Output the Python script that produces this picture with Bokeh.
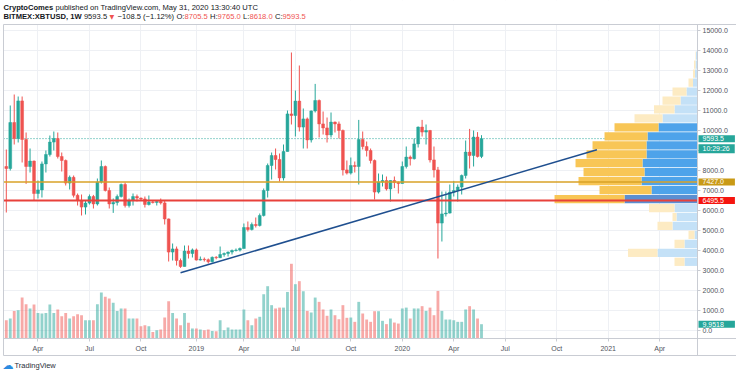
import pandas as pd
from bokeh.plotting import figure
from bokeh.models import (Range1d, LinearAxis, DatetimeAxis, FixedTicker, CustomJSTickFormatter,
                          NumeralTickFormatter, Label, ColumnDataSource, Grid, BoxAnnotation)
from bokeh.embed import file_html
from bokeh.resources import INLINE

# ---------------- data ----------------
first_week = "2018-02-05"   # weekly bars (Monday open)

opens = [8200, 8100, 10400, 9600, 11480, 9550, 8200, 8470, 6850, 7030,
         8330, 8800, 9420, 9600, 8700, 8500, 7370, 7660, 6760, 6500,
         6170, 6370, 6700, 6330, 7420, 8200, 7000, 6330, 6400, 6700,
         7300, 6250, 6500, 6700, 6620, 6580, 6300, 6420, 6400, 6450,
         6380, 5580, 3920, 4080, 3500, 3200, 3970, 3850, 4030, 3520,
         3560, 3540, 3440, 3660, 3640, 3800, 3850, 3920, 4000, 4020,
         4100, 5150, 5050, 5300, 5250, 5750, 7000, 8250, 8750, 8550,
         7630, 8950, 10830, 10750, 11470, 10170, 10580, 9530, 10980, 11500,
         10330, 10130, 9780, 10420, 10330, 10000, 8030, 7870, 8250, 8200,
         9550, 9200, 9000, 8500, 6920, 7420, 7500, 7080, 7500, 7400,
         7350, 8200, 8670, 8590, 9330, 10170, 9920, 10000, 8530, 8030,
         5370, 5830, 5870, 6920, 7000, 7170, 7750, 8920, 8750, 9670,
         8705.5]
highs = [9050, 11250, 11800, 11700, 11700, 9900, 9100, 8500, 7500, 8450,
         9000, 9750, 9950, 9900, 8900, 8550, 7750, 7750, 6850, 6800,
         6500, 6800, 6780, 7600, 8500, 8250, 7150, 6600, 6800, 7350,
         7400, 6600, 6850, 6800, 6650, 6700, 6750, 6480, 6500, 6600,
         6500, 5600, 4350, 4200, 3600, 4250, 4250, 4100, 4100, 3700,
         3650, 3600, 3700, 3720, 4200, 3900, 3950, 4050, 4100, 4150,
         5350, 5450, 5400, 5650, 5850, 7100, 8350, 8900, 9100, 8850,
         9300, 11000, 13900, 12000, 13250, 11100, 10650, 11000, 12330, 11550,
         10950, 10650, 10900, 10450, 10450, 10050, 8500, 8650, 8450, 10530,
         9950, 9450, 9100, 8550, 7850, 7800, 7700, 7500, 7700, 7450,
         8450, 9200, 8750, 9600, 10200, 10530, 10300, 10030, 9200, 8180,
         6950, 6950, 7300, 7480, 7300, 7800, 9500, 10080, 10000, 9920,
         9765]
lows = [5900, 8000, 9300, 9400, 8400, 7330, 7900, 6500, 6600, 6650,
        7900, 8700, 9000, 8600, 7950, 7250, 7050, 6650, 6250, 5750,
        5800, 6300, 6100, 6250, 7350, 6950, 6100, 5880, 6250, 6650,
        6150, 6150, 6250, 6450, 6500, 6150, 6250, 6350, 6250, 6300,
        5300, 3450, 3500, 3250, 3130, 3200, 3600, 3650, 3500, 3500,
        3450, 3350, 3400, 3560, 3620, 3690, 3700, 3800, 3950, 3950,
        4100, 4950, 5000, 5150, 5200, 5700, 6650, 7550, 8050, 7450,
        7500, 8950, 10300, 9700, 9950, 9100, 9100, 9400, 10900, 9650,
        9800, 9400, 9650, 9900, 9600, 7750, 7800, 7800, 7900, 7300,
        9050, 8700, 8350, 6550, 6850, 7200, 7000, 6450, 7120, 6850,
        7350, 8100, 8250, 8550, 9150, 9700, 9300, 8400, 7650, 3600,
        4450, 5700, 5850, 6700, 6450, 6800, 7600, 8100, 8200, 8650,
        8618]
closes = [8100, 10400, 9600, 11480, 9550, 8200, 8470, 6850, 7030, 8330,
          8800, 9420, 9600, 8700, 8500, 7370, 7660, 6760, 6500, 6170,
          6370, 6700, 6330, 7420, 8200, 7000, 6330, 6400, 6700, 7300,
          6250, 6500, 6700, 6620, 6580, 6300, 6420, 6400, 6450, 6380,
          5580, 3920, 4080, 3500, 3200, 3970, 3850, 4030, 3520, 3560,
          3540, 3440, 3660, 3640, 3800, 3850, 3920, 4000, 4020, 4100,
          5150, 5050, 5300, 5250, 5750, 7000, 8250, 8750, 8550, 7630,
          8950, 10830, 10750, 11470, 10170, 10580, 9530, 10980, 11500, 10330,
          10130, 9780, 10420, 10330, 10000, 8030, 7870, 8250, 8200, 9550,
          9200, 9000, 8500, 6920, 7420, 7500, 7080, 7500, 7400, 7350,
          8200, 8670, 8590, 9330, 10170, 9920, 10000, 8530, 8030, 5370,
          5830, 5870, 6920, 7000, 7170, 7750, 8920, 8750, 9670, 8700,
          9593.5]
volumes = [12.7, 13.9, 19.2, 19.7, 28.5, 23.9, 20.9, 23.6, 17.8, 17.4,
           17.8, 23.6, 17.8, 20.2, 15.5, 17.8, 13.9, 15.5, 16.9, 16.2,
           12.7, 12.7, 12.7, 23.9, 32.0, 29.0, 27.8, 24.8, 19.2, 20.9,
           20.9, 13.9, 13.9, 13.9, 8.6, 9.3, 8.6, 4.6, 5.8, 6.3,
           14.6, 25.9, 17.8, 13.9, 9.3, 17.8, 10.9, 7.0, 7.0, 6.3,
           5.8, 6.3, 5.3, 5.1, 12.7, 5.8, 7.6, 6.3, 6.3, 6.3,
           20.2, 12.7, 9.3, 13.9, 15.1, 30.8, 36.4, 23.2, 20.9, 21.5,
           21.5, 32.4, 52.0, 37.8, 39.9, 32.9, 19.2, 18.1, 28.5, 25.5,
           20.2, 15.8, 20.2, 16.2, 13.4, 23.2, 14.4, 14.6, 11.6, 25.5,
           17.4, 13.2, 11.6, 19.0, 19.0, 12.3, 10.0, 13.9, 11.1, 10.4,
           20.9, 21.5, 13.9, 20.9, 20.9, 22.5, 19.2, 21.5, 16.2, 33.1,
           19.2, 13.2, 13.2, 12.7, 11.6, 11.6, 20.2, 22.5, 20.2, 13.9,
           9.9518]

# visible-range volume profile (24 rows, bottom -> top)
profile_low = 3211
profile_high = 13963
profile_up = [13, 40, 13, 3, 25, 21, 23, 73, 46, 56, 53, 55,
              51, 51, 50, 39, 35, 23, 17, 11, 4.5, 2.5, 2, 1.5]
profile_down = [10, 29.5, 10, 6, 15, 4, 25.5, 70, 52, 63, 61, 67,
                60, 54, 43, 44, 28, 20.5, 18, 14, 4.5, 2, 1.5, 0.5]
value_area_rows = (7, 15)

tick_dates = ["2018-04-02", "2018-07-02", "2018-10-01", "2019-01-07", "2019-04-01",
              "2019-07-01", "2019-10-07", "2020-01-06", "2020-04-06", "2020-07-06",
              "2020-10-05", "2021-01-04", "2021-04-05"]
price_ticks = [0, 1000, 2000, 3000, 4000, 5000, 6000, 7000, 8000, 9000,
               10000, 11000, 12000, 13000, 14000, 15000]

last_price = 9593.5
countdown = "10:29:26"
level_orange = 7427.0
level_red = 6495.5
trend_dates = ["2018-12-10", "2020-12-15"]
trend_prices = [2885, 9035]

header_line1 = [("CryptoComes", True, "dark"),
                ("published on TradingView.com, May 31, 2020 13:30:40 UTC", False, "dark")]
header_line2 = [("BITMEX:XBTUSD, 1W", True, "dark"), ("9593.5", False, "dark"),
                ("▼", False, "red"), ("−108.5 (−1.12%)", False, "dark"),
                ("O:", False, "dark"), ("8705.5", False, "red"),
                ("H:", False, "dark"), ("9765.0", False, "red"),
                ("L:", False, "dark"), ("8618.0", False, "red"),
                ("C:", False, "dark"), ("9593.5", False, "red")]

# ---------------- layout (page pixels -> data) ----------------
W, H = 736, 375
UP = "#26a69a"
DOWN = "#ef5350"
DAY = 86400000.0
weeks = pd.date_range(first_week, periods=len(opens), freq="7D")
last_bar = weeks[-1]
px_per_day = 3.96 / 7.0
LAST_BAR_PX = 481
x_start = last_bar - pd.Timedelta(days=LAST_BAR_PX / px_per_day)
x_end = last_bar + pd.Timedelta(days=(W - LAST_BAR_PX) / px_per_day)
ZERO_PX, PX_PER_PRICE = 330.0, 0.02
VOL_BASE_PX, VOL_PER_PX = 338.0, 0.696


def cx(px):   # page x -> datetime ms
    return (x_start + pd.Timedelta(days=px / px_per_day)).value / 1e6


def cy(py):   # page y -> price
    return (ZERO_PX - py) / PX_PER_PRICE


LEFT, RIGHT, TOP, BOTTOM, AXBOT = 3, 697, 23.5, 338, 355

inc = [c >= o for o, c in zip(opens, closes)]
src = ColumnDataSource(dict(
    x=weeks,
    top=[max(o, c) for o, c in zip(opens, closes)],
    bottom=[min(o, c) for o, c in zip(opens, closes)],
    high=highs, low=lows, vol=volumes,
    color=[UP if i else DOWN for i in inc],
))

p = figure(width=W, height=H, x_axis_type=None, y_axis_type=None,
           x_range=Range1d(x_start, x_end), y_range=Range1d(cy(H), cy(0)),
           output_backend="svg", toolbar_location=None,
           min_border=0, min_border_left=0, min_border_right=0,
           min_border_top=0, min_border_bottom=0)
p.outline_line_color = None
p.background_fill_color = "white"
p.border_fill_color = "white"

p.extra_y_ranges = {"vol": Range1d(-(H - VOL_BASE_PX) * VOL_PER_PX, VOL_BASE_PX * VOL_PER_PX)}
vp_max = max(u + d for u, d in zip(profile_up, profile_down))
vp_per_px = vp_max / (0.206 * (RIGHT - LEFT))
p.extra_x_ranges = {"vp": Range1d(RIGHT * vp_per_px, -(W - RIGHT) * vp_per_px)}

GRID = "#eef0f4"
BORDER = "#c9ccd3"
x_tick_ms = [pd.Timestamp(d).value / 1e6 for d in tick_dates]
p.add_layout(Grid(dimension=0, ticker=FixedTicker(ticks=x_tick_ms), grid_line_color=GRID))
p.add_layout(Grid(dimension=1, ticker=FixedTicker(ticks=price_ticks), grid_line_color=GRID))
# keep the grid inside the chart pane
for kw in (dict(bottom=cy(TOP)), dict(top=cy(BOTTOM)), dict(left=cx(RIGHT)), dict(right=cx(LEFT))):
    p.add_layout(BoxAnnotation(fill_color="white", fill_alpha=1, line_color=None,
                               level="underlay", **kw))

# axes
xa = DatetimeAxis(fixed_location=cy(BOTTOM), bounds=(cx(LEFT), cx(W)),
                  ticker=FixedTicker(ticks=x_tick_ms))
xa.formatter = CustomJSTickFormatter(code="""
const d = new Date(tick);
const m = d.getUTCMonth();
const n = ["Jan","Feb","Mar","Apr","May","Jun","Jul","Aug","Sep","Oct","Nov","Dec"];
return m == 0 ? String(d.getUTCFullYear()) : n[m];
""")
ya = LinearAxis(fixed_location=cx(RIGHT), bounds=(cy(AXBOT), cy(TOP)),
                ticker=FixedTicker(ticks=price_ticks),
                formatter=NumeralTickFormatter(format="0.0"))
for ax in (xa, ya):
    ax.axis_line_color = BORDER
    ax.major_tick_line_color = BORDER
    ax.major_tick_out = 3
    ax.major_tick_in = 0
    ax.minor_tick_line_color = None
    ax.major_label_text_font = "Liberation Sans"
    ax.major_label_text_font_size = "7px"
    ax.major_label_text_color = "#50535e"
    ax.major_label_standoff = 2
xa.major_label_standoff = 3
p.add_layout(xa, "below")
p.add_layout(ya, "right")


def border(side, loc, bounds):
    a = LinearAxis(fixed_location=loc, bounds=bounds, ticker=FixedTicker(ticks=[]),
                   axis_line_color=BORDER, major_tick_line_color=None,
                   minor_tick_line_color=None, major_label_text_font_size="0px")
    p.add_layout(a, side)


border("above", cy(TOP), (cx(LEFT), cx(W)))
border("below", cy(AXBOT), (cx(LEFT), cx(W)))
border("left", cx(LEFT), (cy(AXBOT), cy(TOP)))

# last-price dotted line
p.segment(x0=cx(LEFT), x1=cx(RIGHT), y0=last_price, y1=last_price,
          line_color=UP, line_dash="1 2", line_width=1)

# volume profile
nrows = len(profile_up)
row_h = (profile_high - profile_low) / nrows
mids = [profile_low + row_h * (i + 0.5) for i in range(nrows)]
in_va = [value_area_rows[0] <= i <= value_area_rows[1] for i in range(nrows)]
blue_c = ["#4ea3ea" if v else "#c4e1f7" for v in in_va]
blue_c[value_area_rows[0]] = "#5b8fd2"
yel_c = ["#f8c656" if v else "#fdebc3" for v in in_va]
p.hbar(y=mids, height=row_h * 0.92, left=0, right=profile_up, x_range_name="vp",
       color=blue_c, line_color=None)
p.hbar(y=mids, height=row_h * 0.92, left=profile_up,
       right=[u + d for u, d in zip(profile_up, profile_down)], x_range_name="vp",
       color=yel_c, line_color=None)

# volume bars
p.vbar(x="x", top="vol", bottom=0, width=5 * DAY, y_range_name="vol", source=src,
       fill_color="color", line_color=None, fill_alpha=0.5)

# candles
p.segment(x0="x", y0="high", x1="x", y1="low", source=src, line_color="color", line_width=1)
p.vbar(x="x", top="top", bottom="bottom", width=5 * DAY, source=src,
       fill_color="color", line_color="color", line_width=0.5)

# horizontal levels and trend line
p.segment(x0=cx(LEFT), x1=cx(RIGHT), y0=level_orange, y1=level_orange,
          line_color="#d9a227", line_width=1.5)
p.segment(x0=cx(LEFT), x1=cx(RIGHT), y0=level_red, y1=level_red,
          line_color="#e8413b", line_width=2)
p.line(x=[pd.Timestamp(d) for d in trend_dates], y=trend_prices,
       line_color="#1f4f8f", line_width=1.5)

# ---------------- text helpers (Arial / Liberation Sans advance widths, em/1000) -------------
REG = {" ": 278, ",": 278, ".": 278, ":": 278, "(": 333, ")": 333, "%": 889, "−": 584, "▼": 770,
       "A": 667, "B": 667, "C": 722, "D": 722, "E": 667, "H": 722, "I": 278, "L": 556, "M": 833,
       "O": 778, "S": 667, "T": 611, "U": 722, "V": 667, "W": 944, "X": 667,
       "a": 556, "b": 556, "c": 500, "d": 556, "e": 556, "g": 556, "h": 556, "i": 222, "l": 222,
       "m": 833, "n": 556, "o": 556, "p": 556, "r": 333, "s": 500, "t": 278, "u": 556, "w": 722,
       "y": 500}
BOLD = dict(REG, **{":": 333, "B": 722, "r": 389, "y": 556, "p": 611, "t": 333, "o": 611,
                    "m": 889, "s": 556})


def text_w(s, size, bold=False):
    tbl = BOLD if bold else REG
    return sum(tbl.get(ch, 556) for ch in s) / 1000.0 * size


def axis_tag(y, text, bg, yr="default", dy=0):
    pad_r = max(2, int(round(36 - 4 - text_w(text, 7))))
    p.add_layout(Label(x=RIGHT + 1, x_units="screen", y=y, y_range_name=yr, y_offset=dy,
                       text=text, text_color="white", text_font="Liberation Sans",
                       text_font_size="7px", text_baseline="middle",
                       background_fill_color=bg, level="overlay",
                       padding=dict(left=4, right=pad_r, top=1, bottom=1)))


axis_tag(last_price, "9593.5", "#26a69a")
axis_tag(last_price, countdown, "#26a69a", dy=-10)
axis_tag(level_orange, "7427.0", "#c99a16")
axis_tag(level_red, "6495.5", "#f5150f")
axis_tag(volumes[-1], "9.9518", "#26a69a", yr="vol")


def txt(x, y, text, color="#131722", bold=False, size=7.5, font="Liberation Sans"):
    p.add_layout(Label(x=x, y=H - y, x_units="screen", y_units="screen", text=text,
                       text_color=color, text_font=font, text_font_size=f"{size}px",
                       text_font_style="bold" if bold else "normal",
                       text_baseline="middle", level="overlay"))


COLORS = {"dark": "#131722", "red": DOWN}
HEAD_SIZE = 7.6


def header_line(pieces, y, gaps):
    x = 3
    for (text, bold, col), gap in zip(pieces, gaps):
        x += gap * HEAD_SIZE
        font = "DejaVu Sans" if text == "▼" else "Liberation Sans"
        size = HEAD_SIZE - 1.5 if text == "▼" else HEAD_SIZE
        txt(x, y, text, color=COLORS[col], bold=bold, size=size, font=font)
        x += text_w(text, HEAD_SIZE, bold)


header_line(header_line1, 6.5, [0, 0.278])
header_line(header_line2, 15.5, [0, 0.3, 0.3, 0.3, 0.3, 0, 0.3, 0, 0.3, 0, 0.3, 0])

txt(2, 365, "☁", color="#2a8be0", size=11, font="DejaVu Sans")
txt(14, 365, "TradingView", color="#2a2e39", size=7.5)

open("out.html", "w").write(file_html(p, INLINE))
